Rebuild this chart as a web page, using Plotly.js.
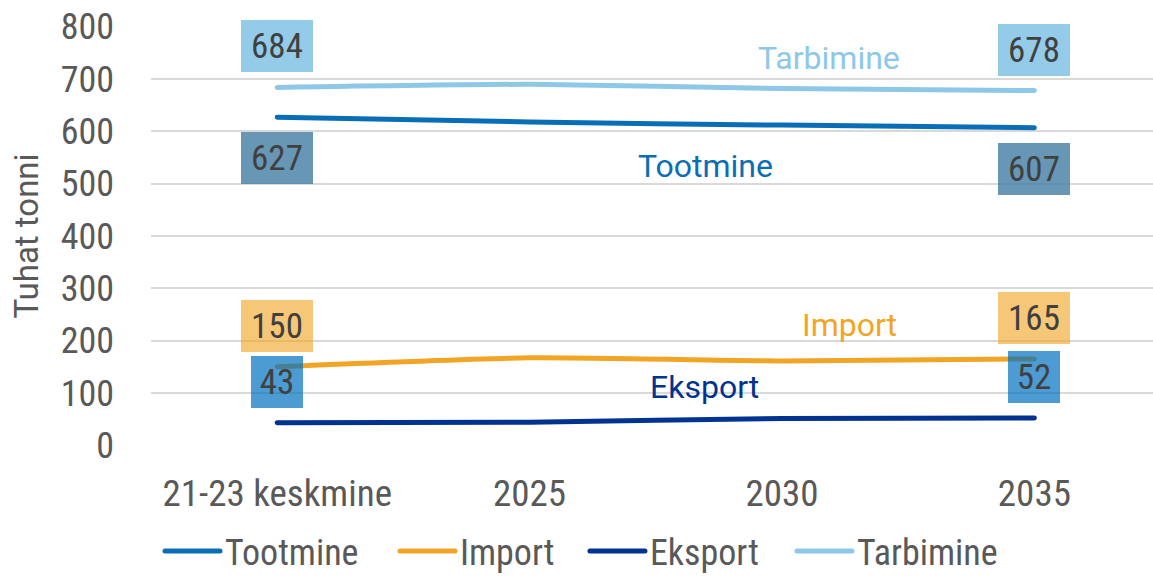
<!DOCTYPE html>
<html>
<head>
<meta charset="utf-8">
<script src="https://cdn.plot.ly/plotly-3.0.1.min.js"></script>
<style>
html,body{margin:0;padding:0;background:#fff;}
#chart{width:1153px;height:581px;}
.scatterlayer .js-line, .legendlines path{stroke-linecap:round;stroke-linejoin:round;}
</style>
</head>
<body>
<div id="chart"></div>
<script>
const categories = ["21-23 keskmine", "2025", "2030", "2035"];
const seriesNames = ["Tootmine", "Import", "Eksport", "Tarbimine"];
const tootmine = [627, 618, 612, 607];
const importV = [150, 167, 161, 165];
const eksport = [43, 44, 51, 52];
const tarbimine = [684, 690, 682, 678];
const yTicks = [0, 100, 200, 300, 400, 500, 600, 700, 800];

const condensed = "Roboto Condensed, Liberation Sans Narrow, DejaVu Sans Condensed, Roboto, sans-serif";
const regular = "Roboto, Liberation Sans, sans-serif";

const colors = {
  Tootmine: "#0A6EB6",
  Import: "#F2A525",
  Eksport: "#00338F",
  Tarbimine: "#8EC8E8"
};
const boxColors = {
  Tootmine: "rgba(70,128,165,0.82)",
  Import: "rgba(242,165,37,0.62)",
  Eksport: "rgba(0,112,192,0.7)",
  Tarbimine: "rgba(142,200,232,0.95)"
};
const data = {Tootmine: tootmine, Import: importV, Eksport: eksport, Tarbimine: tarbimine};

// one legend per series so each entry can sit where the reference puts it
const legendIds = ["legend", "legend2", "legend3", "legend4"];
const legendX = [0.009, 0.2435, 0.4331, 0.6397];

const traces = seriesNames.map((n, k) => ({
  type: "scatter", mode: "lines", name: n,
  x: categories, y: data[n],
  line: {color: colors[n], width: 5, shape: "spline", smoothing: 0.6},
  legend: legendIds[k],
  hoverinfo: "skip"
}));

// value labels at first and last point; above (+1) or below (-1) the line
const labelSide = {Tootmine: -1, Import: 1, Eksport: 1, Tarbimine: 1};
const annotations = [];
seriesNames.forEach(n => {
  [0, categories.length - 1].forEach(i => {
    const v = data[n][i];
    const txt = String(v);
    annotations.push({
      x: i, y: v, xref: "x", yref: "y",
      text: txt, showarrow: false,
      yshift: 41 * labelSide[n],
      width: txt.length >= 3 ? 72 : 52, height: 52,
      bgcolor: boxColors[n], borderwidth: 0, borderpad: 0,
      font: {family: condensed, size: 35, color: "#404040"},
      xanchor: "center", yanchor: "middle"
    });
  });
});

// inline series names
const inline = [
  {n: "Tarbimine", x: 2.187, y: 741},
  {n: "Tootmine", x: 1.696, y: 533},
  {n: "Import", x: 2.266, y: 230},
  {n: "Eksport", x: 1.692, y: 112}
];
inline.forEach(o => annotations.push({
  x: o.x, y: o.y, xref: "x", yref: "y", text: o.n, showarrow: false,
  font: {family: regular, size: 32, color: colors[o.n]},
  xanchor: "center", yanchor: "middle"
}));

const layout = {
  width: 1153, height: 581,
  margin: {l: 151, r: 0, t: 26, b: 135},
  paper_bgcolor: "#fff", plot_bgcolor: "#fff",
  showlegend: true,
  xaxis: {
    type: "category", range: [-0.5, 3.47],
    showgrid: false, zeroline: false, showline: false,
    tickfont: {family: condensed, size: 37, color: "#595959"},
    ticks: "", ticklabelstandoff: 22, fixedrange: true
  },
  yaxis: {
    range: [-1.5, 801.5], tickvals: yTicks,
    showgrid: true, gridcolor: "#D9D9D9", gridwidth: 2,
    zeroline: false, showline: false,
    tickfont: {family: condensed, size: 36, color: "#595959"},
    ticks: "", ticklabelstandoff: 36,
    title: {text: "Tuhat tonni", font: {family: regular, size: 33, color: "#595959"}, standoff: 12},
    fixedrange: true
  },
  annotations: annotations
};
legendIds.forEach((id, k) => {
  layout[id] = {
    orientation: "h", x: legendX[k], xanchor: "left",
    yref: "container", y: 0, yanchor: "bottom",
    font: {family: condensed, size: 36, color: "#595959"},
    itemwidth: 55, bgcolor: "rgba(0,0,0,0)"
  };
});

Plotly.newPlot("chart", traces, layout, {displayModeBar: false, staticPlot: true});
</script>
</body>
</html>
